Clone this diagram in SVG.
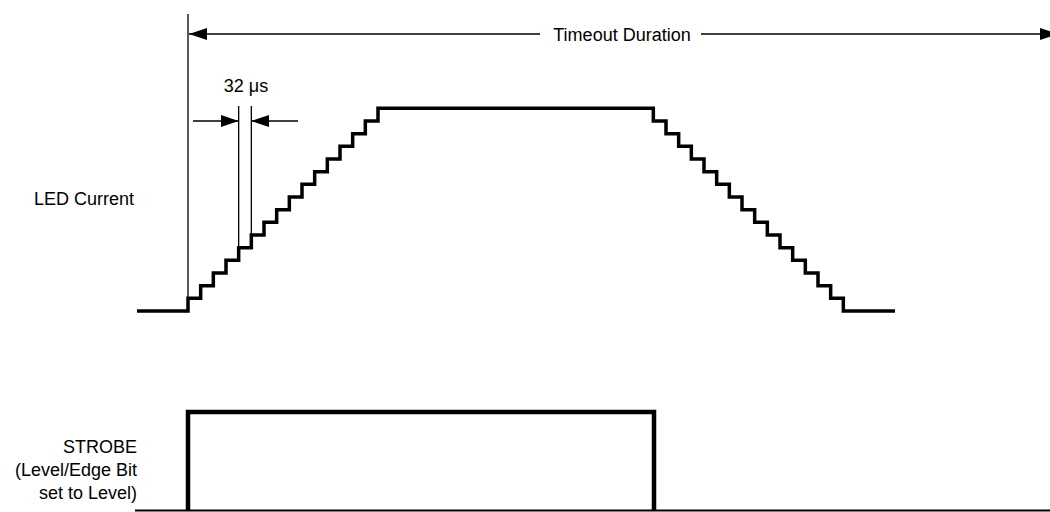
<svg xmlns="http://www.w3.org/2000/svg" width="1050" height="512" viewBox="0 0 1050 512">
  <style>
    .lbl { font-family: "Liberation Sans", Arial, sans-serif; font-size: 18px; fill: #000; }
    .thin { fill: none; stroke: #000; stroke-width: 1.3; }
    .wave { fill: none; stroke: #000; stroke-width: 3.5; stroke-linejoin: miter; }
    .pulse { fill: none; stroke: #000; stroke-width: 4.5; stroke-linejoin: miter; }
    .base { fill: none; stroke: #000; stroke-width: 2; }
  </style>
  <defs>
    <marker id="arrow" markerUnits="userSpaceOnUse" markerWidth="18" markerHeight="12" refX="18" refY="6" orient="auto">
      <path d="M0,0 L18,6 L0,12 z" fill="#000"/>
    </marker>
  </defs>
  <rect width="1050" height="512" fill="#fff"/>

  <g id="led-current">
    <text class="lbl" x="134" y="205" text-anchor="end">LED Current</text>
    <path class="wave" d="M137,311 H188 V298.33 H200.67 V285.67 H213.33 V273 H226 V260.33 H238.67 V247.67 H251.33 V235 H264 V222.33 H276.67 V209.67 H289.33 V197 H302 V184.33 H314.67 V171.67 H327.33 V159 H340 V146.33 H352.67 V133.67 H365.33 V121 H378 V108.33 H653.33 V121 H666 V133.67 H678.67 V146.33 H691.33 V159 H704 V171.67 H716.67 V184.33 H729.33 V197 H742 V209.67 H754.67 V222.33 H767.33 V235 H780 V247.67 H792.67 V260.33 H805.33 V273 H818 V285.67 H830.67 V298.33 H843.33 V311 H895"/>
  </g>

  <g id="strobe">
    <text class="lbl" x="137" y="453" text-anchor="end">STROBE</text>
    <text class="lbl" x="137" y="476" text-anchor="end">(Level/Edge Bit</text>
    <text class="lbl" x="137" y="499" text-anchor="end">set to Level)</text>
    <path class="base" d="M135,510.5 H1050"/>
    <path class="pulse" d="M188,511 V412 H654 V511"/>
  </g>

  <g id="connectors">
    <line class="thin" x1="188" y1="14" x2="188" y2="312"/>
    <line class="thin" x1="540" y1="34" x2="189" y2="34" marker-end="url(#arrow)"/>
    <line class="thin" x1="701" y1="34" x2="1058" y2="34" marker-end="url(#arrow)"/>
    <text class="lbl" x="622" y="41" text-anchor="middle">Timeout Duration</text>
    <line class="thin" x1="238.67" y1="106" x2="238.67" y2="247.67"/>
    <line class="thin" x1="251.33" y1="106" x2="251.33" y2="235"/>
    <line class="thin" x1="193" y1="121" x2="238.67" y2="121" marker-end="url(#arrow)"/>
    <line class="thin" x1="298" y1="121" x2="251.33" y2="121" marker-end="url(#arrow)"/>
    <text class="lbl" x="246" y="92" text-anchor="middle">32 μs</text>
  </g>
</svg>
